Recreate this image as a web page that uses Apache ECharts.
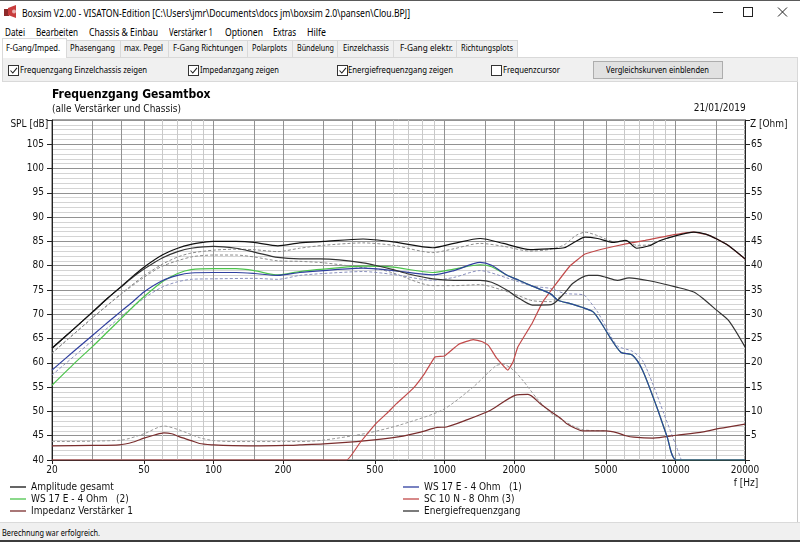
<!DOCTYPE html>
<html><head><meta charset="utf-8"><title>Boxsim</title>
<script src="https://cdn.jsdelivr.net/npm/echarts@6.0.0/dist/echarts.min.js"></script>
<style>
*{box-sizing:border-box}
html,body{margin:0;padding:0;width:800px;height:542px;overflow:hidden;background:#fff;font-family:'Noto Sans','Open Sans',sans-serif;color:#000}
.t{position:absolute;height:20px;line-height:20px;white-space:nowrap;transform-origin:0 50%}
.b{position:absolute}
.tab{position:absolute;top:40px;height:17px;background:#f0f0f0;border:1px solid #d9d9d9;border-bottom:none}
.cb{position:absolute;top:65px;width:11px;height:11px;border:1px solid #333;background:#fff}
</style></head><body>
<div class="b" style="left:0;top:0;width:800px;height:1px;background:#5a5a5a"></div>
<svg class="b" style="left:3px;top:4px" width="15" height="15" viewBox="0 0 15 15">
 <rect x="1" y="5" width="5" height="7" fill="#8c2a2a"/>
 <polygon points="5,4 13,1 13,14 5,11" fill="#c83c3c"/>
 <circle cx="11" cy="7.5" r="2" fill="#e8b0b0"/>
</svg>
<span class="t" data-w="388" style="left:22px;top:2.8px;font-size:11px">Boxsim V2.00 - VISATON-Edition [C:\Users\jmr\Documents\docs jm\boxsim 2.0\pansen\Clou.BPJ]</span>
<svg class="b" style="left:700px;top:0" width="100" height="22">
 <line x1="13" y1="12.5" x2="23" y2="12.5" stroke="#222" stroke-width="1"/>
 <rect x="43.5" y="7.5" width="9" height="9" fill="none" stroke="#222" stroke-width="1"/>
 <line x1="78" y1="7.5" x2="87" y2="16.5" stroke="#222" stroke-width="1"/>
 <line x1="87" y1="7.5" x2="78" y2="16.5" stroke="#222" stroke-width="1"/>
</svg>

<span class="t" data-w="20" style="left:5px;top:22px;font-size:10.5px">Datei</span>
<span class="t" data-w="42" style="left:36px;top:22px;font-size:10.5px">Bearbeiten</span>
<span class="t" data-w="69" style="left:89px;top:22px;font-size:10.5px">Chassis &amp; Einbau</span>
<span class="t" data-w="44" style="left:169px;top:22px;font-size:10.5px">Verstärker 1</span>
<span class="t" data-w="38" style="left:225px;top:22px;font-size:10.5px">Optionen</span>
<span class="t" data-w="23" style="left:273px;top:22px;font-size:10.5px">Extras</span>
<span class="t" data-w="19" style="left:307px;top:22px;font-size:10.5px">Hilfe</span>

<div class="b" style="left:2px;top:57px;width:796px;height:25px;background:#f0f0f0;border:1px solid #d9d9d9"></div>
<div class="tab" style="left:66px;width:55px"></div>
<div class="tab" style="left:120px;width:49px"></div>
<div class="tab" style="left:168px;width:80px"></div>
<div class="tab" style="left:247px;width:46px"></div>
<div class="tab" style="left:292px;width:46px"></div>
<div class="tab" style="left:337px;width:57px"></div>
<div class="tab" style="left:393px;width:64px"></div>
<div class="tab" style="left:456px;width:62px"></div>
<div class="b" style="left:2px;top:38px;width:65px;height:20px;background:#fff;border:1px solid #d9d9d9;border-bottom:none"></div>

<span class="t" data-w="54" style="left:6px;top:37.7px;font-size:9.5px">F-Gang/Imped.</span>
<span class="t" data-w="45" style="left:70px;top:37.7px;font-size:9.5px">Phasengang</span>
<span class="t" data-w="39" style="left:124px;top:37.7px;font-size:9.5px">max. Pegel</span>
<span class="t" data-w="70" style="left:173px;top:37.7px;font-size:9.5px">F-Gang Richtungen</span>
<span class="t" data-w="35" style="left:252px;top:37.7px;font-size:9.5px">Polarplots</span>
<span class="t" data-w="37" style="left:297px;top:37.7px;font-size:9.5px">Bündelung</span>
<span class="t" data-w="46" style="left:343px;top:37.7px;font-size:9.5px">Einzelchassis</span>
<span class="t" data-w="53" style="left:400px;top:37.7px;font-size:9.5px">F-Gang elektr.</span>
<span class="t" data-w="52" style="left:461px;top:37.7px;font-size:9.5px">Richtungsplots</span>

<div class="cb" style="left:8px"><svg width="9" height="9" style="display:block"><path d="M1.5,4.5 L3.8,7 L8,1.8" fill="none" stroke="#222" stroke-width="1.1"/></svg></div>
<div class="cb" style="left:188px"><svg width="9" height="9" style="display:block"><path d="M1.5,4.5 L3.8,7 L8,1.8" fill="none" stroke="#222" stroke-width="1.1"/></svg></div>
<div class="cb" style="left:337px"><svg width="9" height="9" style="display:block"><path d="M1.5,4.5 L3.8,7 L8,1.8" fill="none" stroke="#222" stroke-width="1.1"/></svg></div>
<div class="cb" style="left:491px"></div>
<span class="t" data-w="127" style="left:20px;top:60.3px;font-size:9.5px">Frequenzgang Einzelchassis zeigen</span>
<span class="t" data-w="79" style="left:200px;top:60.3px;font-size:9.5px">Impedanzgang zeigen</span>
<span class="t" data-w="105" style="left:348px;top:60.3px;font-size:9.5px">Energiefrequenzgang zeigen</span>
<span class="t" data-w="57" style="left:503px;top:60.3px;font-size:9.5px">Frequenzcursor</span>
<div class="b" style="left:593px;top:61px;width:130px;height:18px;background:#e1e1e1;border:1px solid #adadad"></div>
<span class="t" data-w="103" style="left:605.5px;top:59.7px;font-size:9.5px">Vergleichskurven einblenden</span>

<div id="chart" class="b" style="left:0;top:82px;width:800px;height:440px"></div>
<div class="b" style="left:797px;top:82px;width:1px;height:440px;background:#c8c8c8"></div>

<div class="b" style="left:0;top:522px;width:800px;height:18px;background:#f0f0f0;border-top:1px solid #dadada"></div>
<span class="t" data-w="98" style="left:2px;top:523.3px;font-size:9.5px">Berechnung war erfolgreich.</span>
<div class="b" style="left:0;top:540px;width:800px;height:2px;background:#3c3c3c"></div>

<script>
// ---------- axis tick values ----------
const xLabelValues = [20, 50, 100, 200, 500, 1000, 2000, 5000, 10000, 20000];
const xMajorGrid = [30, 40, 50, 100, 150, 200, 300, 400, 500, 1000, 1500, 2000, 3000, 4000, 5000, 10000, 15000];
const xMinorGrid = [60, 70, 80, 90, 600, 700, 800, 900, 6000, 7000, 8000, 9000];

// ---------- series: [frequency Hz, SPL dB] ----------
const amplitudeGesamt = [[20,63.0],[25,67.1],[30,70.5],[35,73.4],[40,75.8],[45,77.9],[50,79.7],[60,82.2],[70,83.6],[80,84.4],[90,84.8],[100,85.0],[125,85.0],[150,84.8],[190,84.1],[236,84.7],[300,85.0],[444,85.5],[600,84.9],[890,83.7],[1100,84.6],[1426,85.6],[1800,84.6],[2350,83.3],[2900,83.5],[3300,83.7],[3700,85.0],[4060,85.9],[4600,85.6],[5380,84.8],[6100,85.2],[6800,83.6],[7700,84.1],[8600,85.2],[10100,86.2],[12000,86.9],[13500,86.5],[15100,85.5],[17000,84.1],[20000,81.4]];
const energieFrequenzgang = [[20,63.0],[25,67.1],[30,70.5],[35,73.4],[40,75.7],[45,77.7],[50,79.3],[60,81.6],[70,82.9],[80,83.6],[100,84.0],[125,83.6],[150,82.8],[190,81.7],[236,81.4],[290,81.4],[350,81.2],[444,80.6],[500,80.1],[600,79.2],[700,78.3],[890,77.3],[1100,77.0],[1426,77.0],[1600,76.6],[1860,75.0],[2100,73.3],[2400,71.9],[2900,72.0],[3300,74.3],[3600,76.4],[4200,78.0],[4600,78.0],[5000,77.6],[5600,77.0],[6300,77.5],[7700,76.9],[10100,75.6],[12000,74.6],[13200,73.2],[15100,70.8],[17000,68.7],[20000,63.3]];
const ws17e_1 = [[20,58.5],[25,62.5],[30,65.7],[35,68.4],[40,70.7],[45,72.7],[50,74.6],[60,76.9],[70,78.0],[80,78.5],[100,78.6],[125,78.6],[150,78.4],[190,78.0],[236,78.6],[300,79.0],[444,79.5],[600,79.0],[890,78.1],[1100,79.0],[1426,80.7],[1600,80.1],[1860,78.1],[2100,77.0],[2400,75.8],[2880,74.2],[3100,72.9],[3500,72.2],[3900,71.5],[4400,70.5],[4800,68.0],[5200,65.3],[5800,62.2],[6500,61.6],[7200,58.5],[8300,50.9],[9200,44.8],[10100,40.0],[20000,40.0]];
const ws17e_2 = [[20,55.4],[25,59.9],[30,63.4],[35,66.5],[40,69.2],[45,71.6],[50,73.6],[60,76.7],[70,78.4],[80,79.2],[100,79.4],[125,79.4],[150,79.0],[190,78.1],[236,78.8],[300,79.3],[444,79.9],[600,79.7],[890,78.6],[1100,79.3],[1426,80.2],[1600,79.8],[1860,78.1],[2100,77.0],[2400,75.8],[2880,74.2],[3100,72.9],[3500,72.2],[3900,71.5],[4400,70.5],[4800,68.0],[5200,65.3],[5800,62.2],[6500,61.6],[7200,58.5],[8300,50.9],[9200,44.8],[10100,40.0],[20000,40.0]];
const sc10n_3 = [[20,40.0],[378,40.0],[430,43.5],[505,47.5],[560,49.5],[620,51.6],[730,54.7],[820,57.8],[910,61.2],[1000,61.4],[1150,63.8],[1330,64.8],[1450,64.4],[1550,63.6],[1670,61.2],[1880,58.5],[1980,60.2],[2080,63.3],[2400,68.2],[2660,72.5],[3000,75.9],[3500,80.0],[4060,82.4],[5000,83.6],[6100,84.5],[7400,85.2],[9400,86.2],[12000,86.9],[13500,86.5],[15100,85.5],[17000,84.1],[20000,81.4]];
// ---------- impedance: [frequency Hz, Ohm] (right axis) ----------
const impedanzVerstaerker1 = [[20,2.9],[30,3.0],[39,3.1],[45,3.7],[50,4.5],[56,5.2],[61,5.6],[66,5.4],[71,4.8],[80,4.0],[87,3.4],[100,3.1],[110,3.0],[150,2.9],[207,3.0],[236,3.1],[300,3.3],[460,4.0],[640,4.8],[780,5.7],[930,6.7],[1020,6.8],[1240,8.2],[1590,10.3],[2020,13.3],[2300,13.5],[2600,11.6],[2900,9.9],[3200,8.5],[3400,7.4],[3700,6.5],[3970,6.0],[5000,6.0],[5600,5.6],[6100,5.0],[6600,4.7],[8000,4.5],[10100,5.1],[13200,5.8],[15500,6.5],[20000,7.4]];
// ---------- dotted comparison curves ----------
const amplitudeVergleich = [[20,62.0],[30,69.3],[40,74.3],[50,77.9],[60,80.3],[70,81.8],[80,82.6],[100,83.2],[125,83.4],[150,83.3],[190,82.9],[236,83.6],[300,84.2],[444,84.7],[600,84.2],[890,82.7],[1100,83.5],[1426,84.6],[1800,84.0],[2350,83.0],[2900,83.4],[3300,84.3],[3700,86.2],[4060,86.9],[4600,86.2],[5380,85.0],[6100,85.0],[6800,84.2],[7700,84.3],[8600,85.2],[10100,86.2]];
const energieVergleich = [[20,62.0],[30,69.3],[40,74.2],[50,77.6],[60,79.9],[80,81.8],[100,82.2],[125,82.2],[150,81.8],[190,81.0],[236,80.9],[300,80.6],[444,79.6],[530,79.2],[600,78.5],[890,75.9],[1100,75.9],[1426,76.1],[1750,75.1],[2100,73.8],[2400,72.8],[2900,72.6],[3300,74.3]];
const ws17eVergleich = [[20,57.5],[30,64.6],[40,69.6],[50,73.3],[60,75.6],[70,76.7],[80,77.2],[100,77.3],[150,77.4],[190,77.2],[236,78.0],[300,78.4],[444,78.8],[600,78.2],[890,77.0],[1100,77.6],[1426,79.0],[1860,77.5],[2400,75.8],[2900,75.3],[3300,74.3],[4000,74.0],[4200,73.0],[4600,70.5],[5000,67.4],[5600,63.5],[6500,62.4],[7200,60.5],[8000,55.5],[8900,49.6],[10100,42.7],[10600,40.0]];
const impedanzVergleich = [[20,3.8],[40,4.1],[50,5.4],[61,7.0],[71,6.2],[87,4.6],[100,4.0],[120,3.8],[236,3.8],[300,4.1],[460,5.5],[640,7.2],[980,10.3],[1330,15.0],[1670,19.4],[1800,19.7],[2000,18.4],[2200,16.2],[2500,12.8],[2880,9.7],[3200,8.4],[3600,7.0],[4000,6.2],[5000,6.0]];

const FONT = "'DejaVu Sans Condensed','Liberation Sans',sans-serif";

function curve(name, data, color, opts) {
  opts = opts || {};
  return {
    type: 'line', name: name, data: data, yAxisIndex: opts.y || 0,
    symbol: 'none', smooth: opts.smooth === undefined ? 0.25 : opts.smooth,
    lineStyle: { color: color, width: opts.w || 1.2, type: opts.type || 'solid' },
    itemStyle: { color: color }, z: opts.z || 3, silent: true, animation: false
  };
}

const chart = echarts.init(document.getElementById('chart'), null, { renderer: 'canvas' });
const lblStyle = { fontFamily: FONT, fontSize: 10, color: '#111' };
const option = {
  animation: false,
  textStyle: { fontFamily: FONT },
  grid: { left: 52, right: 55, top: 38, bottom: 62, show: true, borderColor: '#4a4a4a', borderWidth: 1 },
  xAxis: [
    { type: 'log', logBase: 10, min: 20, max: 20000, position: 'bottom', z: 3,
      axisLine: { show: true, onZero: false, lineStyle: { color: '#222' } },
      axisTick: { show: true, length: 4, lineStyle: { color: '#222' }, customValues: xLabelValues },
      axisLabel: Object.assign({ customValues: xLabelValues, margin: 5, formatter: v => String(Math.round(v)) }, lblStyle),
      splitLine: { show: false } },
    { type: 'log', logBase: 10, min: 20, max: 20000, position: 'bottom', z: 2,
      axisLine: { show: false }, axisLabel: { show: false },
      axisTick: { show: false, customValues: xMajorGrid },
      splitLine: { show: true, lineStyle: { color: '#929292', width: 1 } } },
    { type: 'log', logBase: 10, min: 20, max: 20000, position: 'bottom', z: 1,
      axisLine: { show: false }, axisLabel: { show: false },
      axisTick: { show: false, customValues: xMinorGrid },
      splitLine: { show: true, lineStyle: { color: '#c9c9c9', width: 1 } } }
  ],
  yAxis: [
    { type: 'value', min: 40, max: 110, interval: 5, position: 'left',
      axisLine: { show: true, lineStyle: { color: '#222' } },
      axisTick: { show: true, length: 5, lineStyle: { color: '#222' } },
      axisLabel: Object.assign({ margin: 8, formatter: v => v >= 110 ? '' : String(v) }, lblStyle),
      splitLine: { show: true, lineStyle: { color: '#929292' } },
      minorTick: { show: false, splitNumber: 5 },
      minorSplitLine: { show: true, lineStyle: { color: '#d4d4d4' } } },
    { type: 'value', min: 0, max: 70, interval: 5, position: 'right',
      axisLine: { show: true, lineStyle: { color: '#222' } },
      axisTick: { show: true, length: 5, lineStyle: { color: '#222' } },
      axisLabel: Object.assign({ margin: 6, formatter: v => (v <= 0 || v >= 70) ? '' : String(v) }, lblStyle),
      splitLine: { show: false } }
  ],
  legend: [
    { data: ['Amplitude gesamt', 'WS 17 E - 4 Ohm   (2)', 'Impedanz Verstärker 1'],
      orient: 'vertical', left: 10, top: 400, itemWidth: 16, itemHeight: 10, itemGap: 2,
      icon: 'path://M0,0 H16 V1.3 H0 Z', selectedMode: false, padding: 0,
      textStyle: { fontFamily: FONT, fontSize: 10, color: '#111' } },
    { data: ['WS 17 E - 4 Ohm   (1)', 'SC 10 N - 8 Ohm (3)', 'Energiefrequenzgang'],
      orient: 'vertical', left: 403, top: 400, itemWidth: 16, itemHeight: 10, itemGap: 2,
      icon: 'path://M0,0 H16 V1.3 H0 Z', selectedMode: false, padding: 0,
      textStyle: { fontFamily: FONT, fontSize: 10, color: '#111' } }
  ],
  graphic: [
    { type: 'text', x: 52, y: 12.5, style: { text: 'Frequenzgang Gesamtbox', font: 'bold 12px ' + FONT, fill: '#000', verticalAlign: 'middle' } },
    { type: 'text', x: 52, y: 27, style: { text: '(alle Verstärker und Chassis)', font: '10px ' + FONT, fill: '#111', verticalAlign: 'middle' } },
    { type: 'text', x: 745.7, y: 26.7, style: { text: '21/01/2019', font: '10px ' + FONT, fill: '#111', align: 'right', verticalAlign: 'middle' } },
    { type: 'text', x: 48.3, y: 42, style: { text: 'SPL [dB]', font: '10px ' + FONT, fill: '#111', align: 'right', verticalAlign: 'middle' } },
    { type: 'text', x: 750, y: 42, style: { text: 'Z [Ohm]', font: '10px ' + FONT, fill: '#111', align: 'left', verticalAlign: 'middle' } },
    { type: 'text', x: 746, y: 401, style: { text: 'f [Hz]', font: '10px ' + FONT, fill: '#111', align: 'center', verticalAlign: 'middle' } }
  ],
  series: [
    curve('_vergleich_imp', impedanzVergleich, '#9a9a9a', { y: 1, type: [3, 2], w: 1, z: 2 }),
    curve('_vergleich_amp', amplitudeVergleich, '#8c8c8c', { type: [3, 2], w: 1, z: 2 }),
    curve('_vergleich_en', energieVergleich, '#8c8c8c', { type: [3, 2], w: 1, z: 2 }),
    curve('_vergleich_ws', ws17eVergleich, '#8a90bd', { type: [3, 2], w: 1, z: 2 }),
    curve('Impedanz Verstärker 1', impedanzVerstaerker1, '#7a2e2e', { y: 1 }),
    curve('SC 10 N - 8 Ohm (3)', sc10n_3, '#c24a4a', { smooth: 0.1 }),
    curve('WS 17 E - 4 Ohm   (2)', ws17e_2, '#4cc44c'),
    curve('WS 17 E - 4 Ohm   (1)', ws17e_1, '#2f3f9f', { z: 4 }),
    curve('Energiefrequenzgang', energieFrequenzgang, '#333333', { z: 4 }),
    curve('Amplitude gesamt', amplitudeGesamt, '#111111', { z: 5 })
  ]
};
chart.setOption(option);

function fitTexts() {
  document.querySelectorAll('[data-w]').forEach(el => {
    el.style.transform = '';
    const w = el.getBoundingClientRect().width;
    const t = parseFloat(el.dataset.w);
    if (w > 0) el.style.transform = 'scaleX(' + (t / w) + ')';
  });
}
fitTexts();
if (document.fonts && document.fonts.ready) document.fonts.ready.then(fitTexts);
</script>
</body></html>
